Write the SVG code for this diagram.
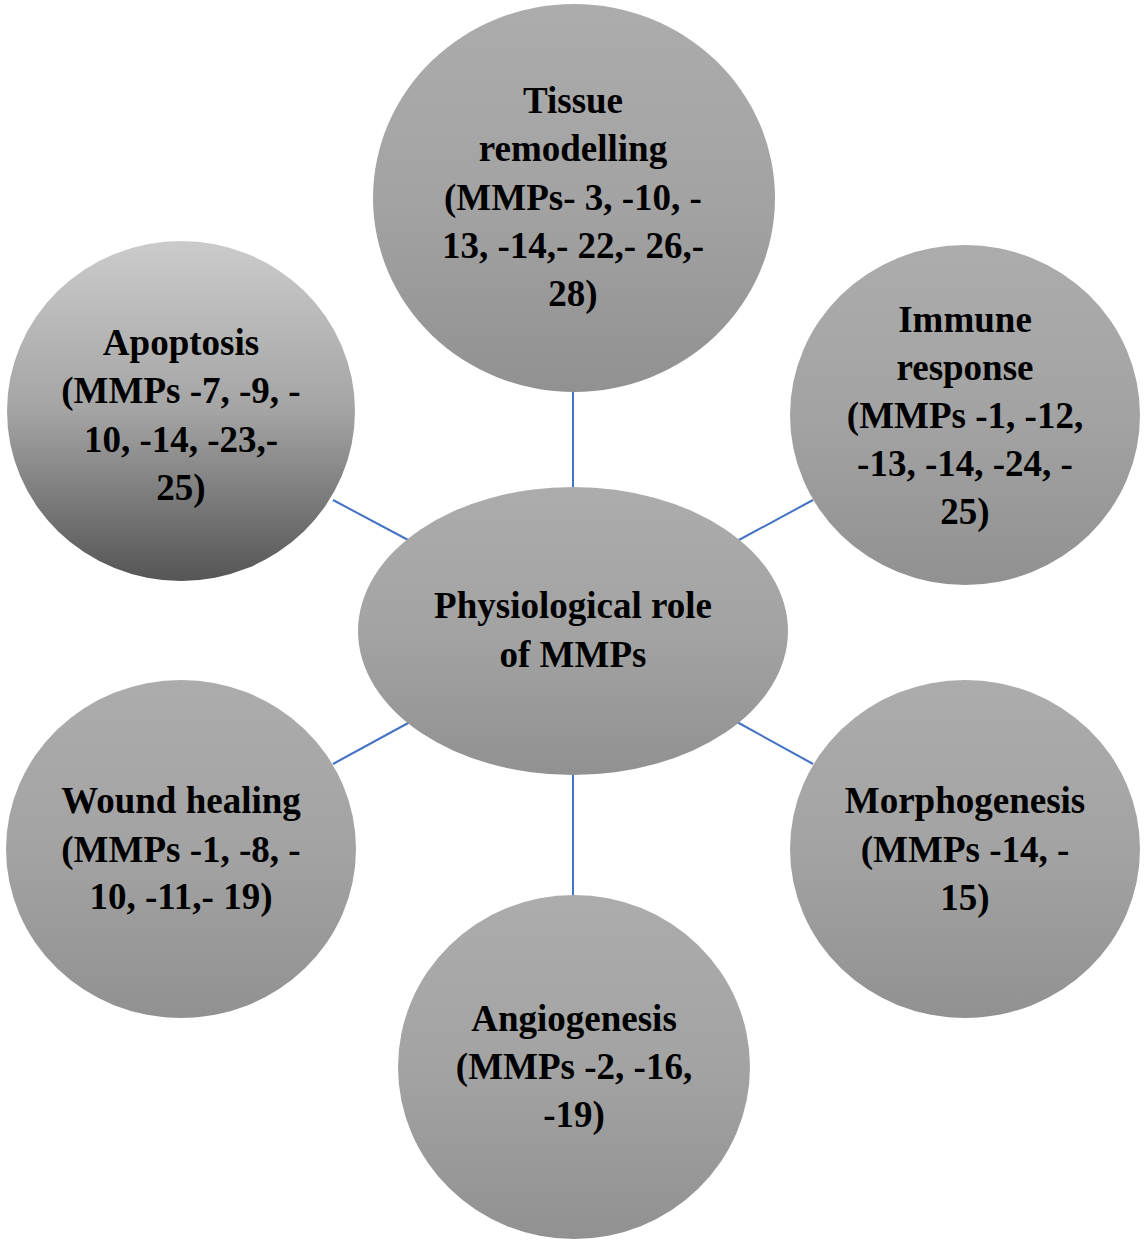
<svg xmlns="http://www.w3.org/2000/svg" width="1147" height="1241" viewBox="0 0 1147 1241">
<defs>
<linearGradient id="g" x1="0" y1="0" x2="0" y2="1">
<stop offset="0" stop-color="#acacac"/>
<stop offset="0.5" stop-color="#a3a3a3"/>
<stop offset="1" stop-color="#919191"/>
</linearGradient>
<linearGradient id="gd" x1="0" y1="0" x2="0" y2="1">
<stop offset="0" stop-color="#cbcbcb"/>
<stop offset="0.5" stop-color="#a4a4a4"/>
<stop offset="1" stop-color="#555555"/>
</linearGradient>
<style>
.n{fill:url(#g);}
.nd{fill:url(#gd);}
.t{font-family:"Liberation Serif","Times New Roman",serif;font-weight:bold;font-size:37px;fill:#000;text-anchor:middle;}
.c{stroke:#4472c4;stroke-width:2;fill:none;}
</style>
</defs>
<rect width="1147" height="1241" fill="#fff"/>
<g id="connectors">
<line class="c" x1="573" y1="390" x2="573" y2="488"/>
<line class="c" x1="333" y1="500" x2="410" y2="541"/>
<line class="c" x1="813" y1="500" x2="737" y2="541"/>
<line class="c" x1="333" y1="764" x2="410" y2="722"/>
<line class="c" x1="813" y1="764" x2="737" y2="722"/>
<line class="c" x1="573" y1="774" x2="573" y2="897"/>
</g>
<g id="tissue">
<ellipse class="n" cx="574" cy="198" rx="201" ry="194"/>
<text class="t"><tspan x="573" y="113">Tissue</tspan><tspan x="573" y="161">remodelling</tspan><tspan x="573" y="210">(MMPs- 3, -10, -</tspan><tspan x="573" y="258">13, -14,- 22,- 26,-</tspan><tspan x="573" y="306">28)</tspan></text>
</g>
<g id="apoptosis">
<ellipse class="nd" cx="181" cy="411" rx="174" ry="170"/>
<text class="t"><tspan x="181" y="355">Apoptosis</tspan><tspan x="181" y="403">(MMPs -7, -9, -</tspan><tspan x="181" y="452">10, -14, -23,-</tspan><tspan x="181" y="500">25)</tspan></text>
</g>
<g id="immune">
<ellipse class="n" cx="965" cy="415" rx="175" ry="170"/>
<text class="t"><tspan x="965" y="332">Immune</tspan><tspan x="965" y="380">response</tspan><tspan x="965" y="428">(MMPs -1, -12,</tspan><tspan x="965" y="476">-13, -14, -24, -</tspan><tspan x="965" y="524">25)</tspan></text>
</g>
<g id="center">
<ellipse class="n" cx="573" cy="631" rx="215" ry="144"/>
<text class="t"><tspan x="573" y="618">Physiological role</tspan><tspan x="573" y="667">of MMPs</tspan></text>
</g>
<g id="wound">
<ellipse class="n" cx="181" cy="849" rx="175" ry="169"/>
<text class="t"><tspan x="181" y="813">Wound healing</tspan><tspan x="181" y="862">(MMPs -1, -8, -</tspan><tspan x="181" y="909">10, -11,- 19)</tspan></text>
</g>
<g id="morphogenesis">
<ellipse class="n" cx="965" cy="849" rx="175" ry="169"/>
<text class="t"><tspan x="965" y="813">Morphogenesis</tspan><tspan x="965" y="862">(MMPs -14, -</tspan><tspan x="965" y="910">15)</tspan></text>
</g>
<g id="angiogenesis">
<ellipse class="n" cx="574" cy="1067" rx="176" ry="172"/>
<text class="t"><tspan x="574" y="1031">Angiogenesis</tspan><tspan x="574" y="1079">(MMPs -2, -16,</tspan><tspan x="574" y="1127">-19)</tspan></text>
</g>
</svg>
